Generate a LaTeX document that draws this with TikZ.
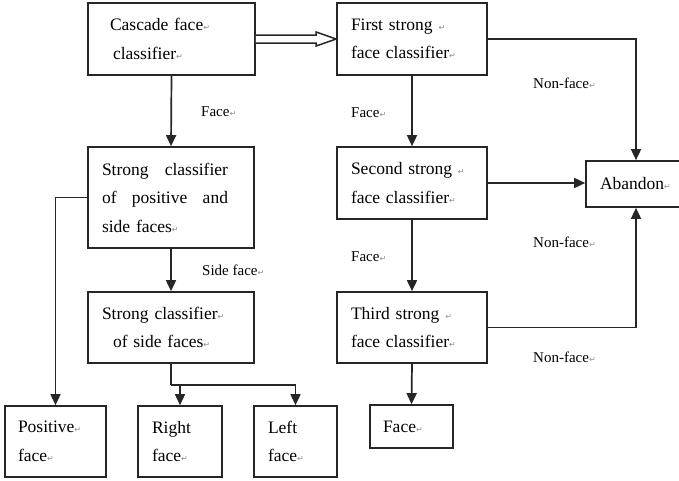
\documentclass[tikz,border=0pt]{standalone}
\usepackage{fontspec}
\setmainfont{Liberation Serif}
\newfontfamily\symfont{DejaVu Sans}
\usetikzlibrary{arrows.meta,calc}
% paragraph mark after each line of text
\newcommand{\retmark}{{\color{black!45}\symfont\fontsize{8}{8}\selectfont ↵}}
\tikzset{
  box/.style={draw=black!85, line width=1.7pt, rectangle, align=left,
    inner ysep=0pt, font=\fontsize{17.5}{28.5}\selectfont},
  lab/.style={inner sep=0pt, anchor=west, font=\fontsize{15}{15}\selectfont},
  conn/.style={draw=black!85, line width=1.7pt},
  arr/.style={conn, -{Triangle[length=11pt,width=10pt]}}
}
\begin{document}
\begin{tikzpicture}[x=1pt,y=-1pt]
\useasboundingbox (0,0) rectangle (679,480);
\fill[white] (0,0) rectangle (679,480);

% classifier stages
\node[box, text width=123pt, inner xsep=22pt, minimum height=72pt] (casc) at (171.5,39)
  {Cascade face\retmark\\\hspace*{3pt}classifier\retmark};
\node[box, text width=122pt, inner xsep=14pt, minimum height=72pt] (first) at (412,39)
  {First strong \retmark\\face classifier\retmark};
\node[box, text width=138pt, inner xsep=14pt, minimum height=101pt] (spos) at (171,197.5)
  {\makebox[126pt][l]{Strong\hfill classifier}\\\makebox[126pt][l]{of\hfill positive\hfill and}\\side faces\retmark};
\node[box, text width=122pt, inner xsep=14pt, minimum height=72pt] (second) at (412,183)
  {Second strong \retmark\\face classifier\retmark};
\node[box, text width=122pt, inner xsep=14pt, minimum height=71pt] (third) at (412,327.5)
  {Third strong \retmark\\face classifier\retmark};
\node[box, text width=138pt, inner xsep=14pt, minimum height=71pt] (sside) at (171,327.5)
  {Strong classifier\retmark\\\hspace*{11pt}of side faces\retmark};

% outcomes
\node[box, text width=75pt, inner xsep=13pt, minimum height=71pt] (pos) at (55.5,441.5)
  {Positive\retmark\\face\retmark};
\node[box, text width=56pt, inner xsep=14pt, minimum height=71pt] (right) at (180,441.5)
  {Right\\face\retmark};
\node[box, text width=55pt, inner xsep=14pt, minimum height=71pt] (left) at (295.5,441.5)
  {Left\\face\retmark};
\node[box, text width=57pt, inner xsep=13pt, minimum height=43pt] (face) at (411.5,426.5)
  {Face\retmark};
\node[box, text width=72pt, inner xsep=14pt, minimum height=46pt] (aband) at (636,184)
  {Abandon\retmark};

% hollow double arrow between the first two stages
\draw[conn, line width=1.5pt, fill=white, line join=miter]
  ([yshift=4pt]casc.east) -- ([xshift=-20pt,yshift=4pt]first.west)
  -- ([xshift=-20pt,yshift=7pt]first.west) -- (first.west)
  -- ([xshift=-20pt,yshift=-7pt]first.west) -- ([xshift=-20pt,yshift=-4pt]first.west)
  -- ([yshift=-4pt]casc.east);

% connectors
\draw[arr] (casc.south) -- (spos.north);
\draw[arr] (first.east) -| (aband.north);
\draw[arr] (first.south) -- (second.north);
\draw[arr] (second.east) -- (second.east -| aband.west);
\draw[arr] (second.south) -- (third.north);
\draw[arr] (third.east) -| (aband.south);
\draw[arr] (third.south) -- (face.north);
\draw[arr] (spos.west) -| (pos.north);
\draw[arr] (spos.south) -- (sside.north);
\coordinate (split) at ($(sside.south)+(0,21)$);
\draw[conn] (sside.south) -- (split);
\draw[arr] (split) -| (right.north);
\draw[arr] (split) -| (left.north);

% connector labels
\node[lab] (lface1) at (201,112) {Face\retmark};
\node[lab] (lface2) at (351,113) {Face\retmark};
\node[lab] (lface3) at (351,257) {Face\retmark};
\node[lab] (lside) at (202,270) {Side face\retmark};
\node[lab] (lnf1) at (533,83) {Non-face\retmark};
\node[lab] (lnf2) at (533,242) {Non-face\retmark};
\node[lab] (lnf3) at (533,357) {Non-face\retmark};
\end{tikzpicture}
\end{document}
